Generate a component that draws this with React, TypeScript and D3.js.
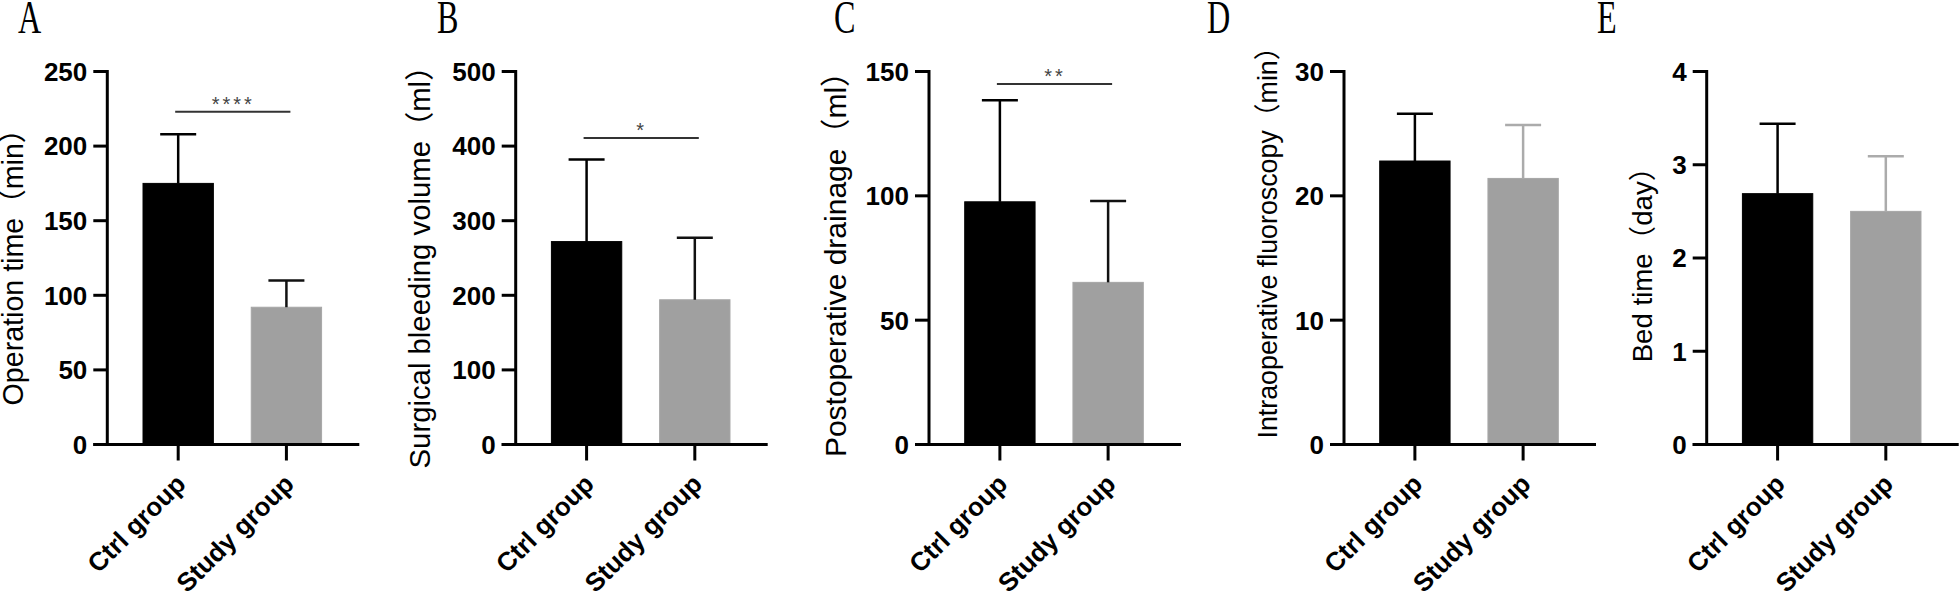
import React from 'react';
import * as d3 from 'd3';

// ---------- data ----------
const panelLetters = ['A', 'B', 'C', 'D', 'E'];
const yTitles = [
  'Operation time（min）',
  'Surgical bleeding volume（ml）',
  'Postoperative drainage（ml）',
  'Intraoperative fluoroscopy（min）',
  'Bed time（day）',
];
const categories = ['Ctrl group', 'Study group'];
const yMax = [250, 500, 150, 30, 4];
const yStep = [50, 100, 50, 10, 1];
const ctrlMean = [175, 272, 97.6, 22.8, 2.69];
const ctrlErr = [33, 110, 40.8, 3.8, 0.75];
const studyMean = [92, 194, 65.2, 21.4, 2.5];
const studyErr = [18, 83, 32.7, 4.3, 0.59];
const sigLabels = ['****', '*', '**', '', ''];
const sigLevel = [223, 411, 145, null, null];

// ---------- layout ----------
const W = 1960;
const H = 601;
const axisX = [107.3, 515.7, 929, 1344, 1706.7];
const letterX = [18, 437, 834, 1207, 1597];
const titleCenterX = [16, 423, 838, 1270, 1645];
const titleCenterY = [260, 260, 257, 236, 258];
const titleSize = [28.6, 29.3, 30, 26.8, 27.6];
const studyErrColor = ['#111', '#111', '#111', '#ababab', '#ababab'];
const plotTop = 71.5;
const plotBottom = 444.5;
const bandRange = 250;
const xAxisLen = 252;
const tickLen = 14;
const capHalf = 18;
const sans = "'Liberation Sans', Arial, 'Noto Sans CJK SC', sans-serif";
const barFill = ['#000000', '#a0a0a0'];

function Panel({ i }: { i: number }) {
  const x0 = axisX[i];
  const y = d3.scaleLinear().domain([0, yMax[i]]).range([plotBottom, plotTop]);
  const x = d3
    .scaleBand<string>()
    .domain(categories)
    .range([x0, x0 + bandRange])
    .paddingInner(0.35)
    .paddingOuter(0.33);
  const ticks = d3.range(0, yMax[i] + yStep[i] / 2, yStep[i]);
  const means = [ctrlMean[i], studyMean[i]];
  const errs = [ctrlErr[i], studyErr[i]];
  const errColors = ['#000', studyErrColor[i]];
  const sig = sigLevel[i];
  const cC = (x(categories[0]) as number) + x.bandwidth() / 2;
  const cS = (x(categories[1]) as number) + x.bandwidth() / 2;
  const ts = titleSize[i];

  return (
    <g>
      {/* panel letter */}
      <text
        transform={`translate(${letterX[i]},33) scale(0.7,1)`}
        fontFamily="'Liberation Serif', 'Times New Roman', serif"
        fontSize={46}
        fill="#000"
      >
        {panelLetters[i]}
      </text>

      {/* y title */}
      <text
        transform={`translate(${titleCenterX[i] + ts * 0.25},${titleCenterY[i]}) rotate(-90)`}
        textAnchor="middle"
        fontFamily={sans}
        fontSize={ts}
        fill="#000"
      >
        {yTitles[i]}
      </text>

      {/* bars */}
      {categories.map((c, k) => (
        <rect
          key={c}
          x={x(c)}
          y={y(means[k])}
          width={x.bandwidth()}
          height={y(0) - y(means[k])}
          fill={barFill[k]}
          stroke={k === 0 ? '#000' : '#a6a6a6'}
          strokeWidth={1}
        />
      ))}

      {/* error bars */}
      {categories.map((c, k) => {
        const cx = (x(c) as number) + x.bandwidth() / 2;
        const top = y(means[k] + errs[k]);
        return (
          <g key={'e' + c} stroke={errColors[k]} strokeWidth={2.5}>
            <line x1={cx} x2={cx} y1={y(means[k])} y2={top} />
            <line x1={cx - capHalf} x2={cx + capHalf} y1={top} y2={top} />
          </g>
        );
      })}

      {/* y axis */}
      <line x1={x0} x2={x0} y1={y(yMax[i]) - 1.5} y2={y(0)} stroke="#000" strokeWidth={3} />
      {ticks.map((t) => (
        <g key={t}>
          <line x1={x0 - tickLen} x2={x0} y1={y(t)} y2={y(t)} stroke="#000" strokeWidth={3} />
          <text
            x={x0 - tickLen - 6}
            y={y(t)}
            dy="0.36em"
            textAnchor="end"
            fontFamily={sans}
            fontWeight="bold"
            fontSize={26}
            fill="#000"
          >
            {t}
          </text>
        </g>
      ))}

      {/* x axis */}
      <line x1={x0 - tickLen} x2={x0 + xAxisLen} y1={y(0)} y2={y(0)} stroke="#000" strokeWidth={3} />
      {categories.map((c) => {
        const cx = (x(c) as number) + x.bandwidth() / 2;
        return (
          <g key={'x' + c}>
            <line x1={cx} x2={cx} y1={y(0)} y2={y(0) + 16} stroke="#000" strokeWidth={3} />
            <text
              transform={`translate(${cx + 9},${y(0) + 41}) rotate(-45)`}
              textAnchor="end"
              fontFamily={sans}
              fontWeight="bold"
              fontSize={26}
              fill="#000"
            >
              {c}
            </text>
          </g>
        );
      })}

      {/* significance */}
      {sig !== null && (
        <g>
          <line x1={cC - 3} x2={cS + 4} y1={y(sig)} y2={y(sig)} stroke="#333" strokeWidth={2} />
          <text
            x={(cC + cS) / 2 + 1}
            y={y(sig) - 1}
            textAnchor="middle"
            fontFamily={sans}
            fontSize={20}
            letterSpacing={3}
            fill="#444"
          >
            {sigLabels[i]}
          </text>
        </g>
      )}
    </g>
  );
}

export default function App() {
  return (
    <svg
      width={W}
      height={H}
      viewBox={`0 0 ${W} ${H}`}
      style={{ position: 'absolute', left: 0, top: 0, background: '#fff' }}
    >
      <rect x={0} y={0} width={W} height={H} fill="#fff" />
      {panelLetters.map((_, i) => (
        <Panel key={i} i={i} />
      ))}
    </svg>
  );
}
